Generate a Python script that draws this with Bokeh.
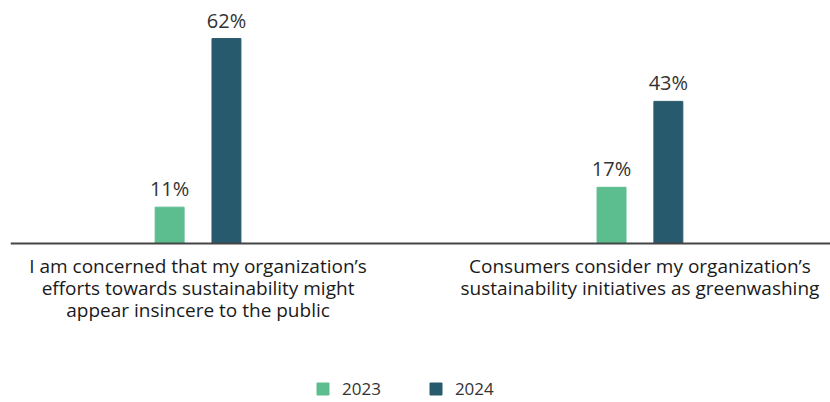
from bokeh.plotting import figure
from bokeh.models import ColumnDataSource, Span, Legend, LegendItem
from bokeh.transform import dodge
from bokeh.core.properties import value
from bokeh.embed import file_html
from bokeh.resources import INLINE

categories = [
    "I am concerned that my organization\u2019s\nefforts towards sustainability might\nappear insincere to the public",
    "Consumers consider my organization\u2019s\nsustainability initiatives as greenwashing",
]
years = ["2023", "2024"]
v2023 = [11, 17]
v2024 = [62, 43]

colors = {"2023": "#5CBD8F", "2024": "#285A6D"}
FONT = "Open Sans"

xs = list(range(len(categories)))
src = ColumnDataSource(dict(
    x=xs,
    cat=categories,
    v2023=v2023,
    v2024=v2024,
    l2023=[f"{v}%" for v in v2023],
    l2024=[f"{v}%" for v in v2024],
))

p = figure(width=830, height=402, output_backend="svg", toolbar_location=None,
           x_range=(-0.4244, 1.4312), y_range=(-48.1, 71.1),
           x_axis_location=None, y_axis_location=None,
           min_border_left=10, min_border_right=0, min_border_top=8, min_border_bottom=0)
p.grid.visible = False
p.outline_line_color = None
p.background_fill_color = "white"

off = 0.0643
bw = 0.0655
r1 = p.vbar(x=dodge("x", -off, range=p.x_range), top="v2023", width=bw, bottom=0,
            source=src, color=colors["2023"])
r2 = p.vbar(x=dodge("x", off, range=p.x_range), top="v2024", width=bw, bottom=0,
            source=src, color=colors["2024"])

p.text(x=dodge("x", -off, range=p.x_range), y="v2023", text="l2023", source=src,
       text_align="center", text_baseline="bottom", y_offset=-5,
       text_font=value(FONT), text_font_size="20px", text_color="#333333")
p.text(x=dodge("x", off, range=p.x_range), y="v2024", text="l2024", source=src,
       text_align="center", text_baseline="bottom", y_offset=-5,
       text_font=value(FONT), text_font_size="20px", text_color="#333333")

p.add_layout(Span(location=0, dimension="width", line_color="#444444", line_width=2))

p.text(x="x", y=0, text="cat", source=src, text_align="center", text_baseline="top",
       y_offset=9, text_font=value(FONT), text_font_size="19px",
       text_color="#1a1a1a", text_line_height=0.85)

legend = Legend(items=[LegendItem(label=years[0], renderers=[r1]),
                       LegendItem(label=years[1], renderers=[r2])],
                orientation="horizontal", location=(305, 2),
                glyph_width=15, glyph_height=15, label_standoff=12, spacing=47,
                label_text_font=FONT, label_text_font_size="17px", label_text_color="#333333",
                padding=0, margin=0, border_line_color=None, background_fill_alpha=0,
                label_height=15)
p.add_layout(legend, "center")

open("out.html", "w").write(file_html(p, INLINE))
